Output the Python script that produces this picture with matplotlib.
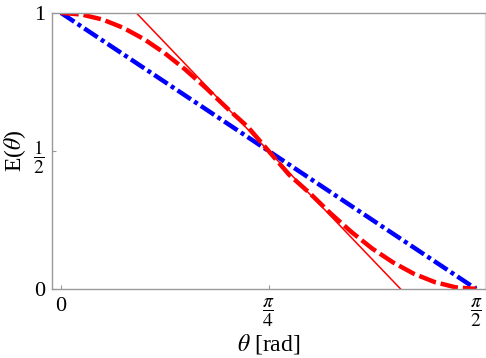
import numpy as np
import matplotlib
matplotlib.use("Agg")
import matplotlib.pyplot as plt

plt.rcParams['font.family'] = ['Liberation Serif', 'DejaVu Serif']
plt.rcParams['mathtext.fontset'] = 'stix'

# Red dashed curve: theta (as fraction of pi/2) and E values
red_frac = [0.0, 0.05, 0.10, 0.15, 0.20, 0.25, 0.30, 0.35, 0.40, 0.45, 0.50,
            0.55, 0.60, 0.65, 0.70, 0.75, 0.80, 0.85, 0.90, 0.95, 1.0]
red_E = [1.0, 0.994, 0.976, 0.946, 0.905, 0.854, 0.794, 0.727, 0.655, 0.587, 0.5,
         0.413, 0.346, 0.273, 0.206, 0.146, 0.096, 0.055, 0.025, 0.006, 0.0]

# Blue dash-dot line
blue_theta = [0.0, np.pi / 2]
blue_E = [1.0, 0.0]

# Thin red tangent line
tan_theta = [0.285, 1.285]
tan_E = [1.0, 0.0]

x_ticks = [0, np.pi / 4, np.pi / 2]
x_labels = ['0', r'$\dfrac{\pi}{4}$', r'$\dfrac{\pi}{2}$']
y_ticks = [0, 0.5, 1]
y_labels = ['0', r'$\dfrac{1}{2}$', '1']

fig = plt.figure(figsize=(4.86, 3.58), dpi=100)
ax = fig.add_axes([0.107, 0.193, 0.891, 0.771])

red_theta = [f * np.pi / 2 for f in red_frac]

ax.plot(blue_theta, blue_E, color=(0, 0, 1), lw=3.2, dashes=(3.6, 0.9, 0.9, 0.9),
        dash_capstyle='butt')
ax.plot(red_theta, red_E, color=(1, 0, 0), lw=3.2, dashes=(4.0, 1.1),
        dash_capstyle='butt')
ax.plot(tan_theta, tan_E, color=(1, 0, 0), lw=1.1)

ax.set_xlim(-0.034, np.pi / 2 + 0.034)
ax.set_ylim(0, 1)

ax.set_xticks(x_ticks)
ax.set_xticklabels(x_labels)
ax.set_yticks(y_ticks)
ax.set_yticklabels(y_labels)
for lbl in ax.get_xticklabels() + ax.get_yticklabels():
    lbl.set_fontsize(16 if lbl.get_text() in ('0', '1') else 14)
ax.tick_params(direction='in', length=3, width=0.8, color='#999999', pad=5)
ax.tick_params(axis='x', pad=6)

for s in ['left', 'bottom', 'top']:
    ax.spines[s].set_color('#999999')
    ax.spines[s].set_linewidth(1.0)
ax.spines['right'].set_color('#dddddd')
ax.spines['right'].set_linewidth(1.0)

ax.set_xlabel(r'$\theta$ [rad]', fontsize=17, labelpad=2)
ax.set_ylabel(r'E($\theta$)', fontsize=17, labelpad=4)

fig.savefig('out.png', dpi=100)
